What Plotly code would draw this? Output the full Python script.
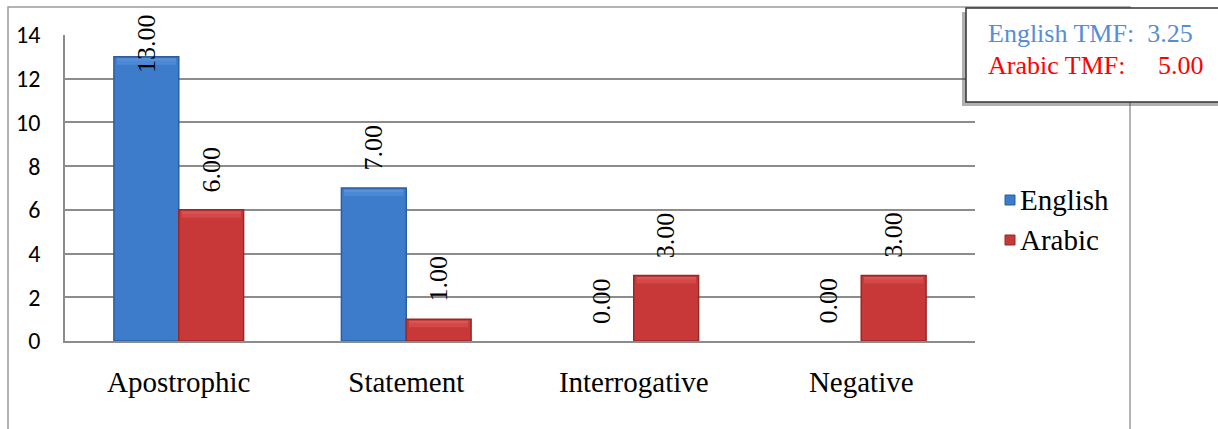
import plotly.graph_objects as go

# Sentence types and mean counts per language
categories = ["Apostrophic", "Statement", "Interrogative", "Negative"]
english = [13.00, 7.00, 0.00, 0.00]
arabic = [6.00, 1.00, 3.00, 3.00]
tmf_english = 3.25
tmf_arabic = 5.00
y_ticks = [0, 2, 4, 6, 8, 10, 12, 14]

SERIF = "Liberation Serif, Times New Roman, serif"
SANS = "Carlito, Calibri, Open Sans, sans-serif"

BAR_GAP = 0.43
HALF = (1 - BAR_GAP) / 2  # width of one bar in category units

series = [
    # name, values, face colour, edge colour, highlight colour, offset sign
    ("English", english, "#3D7CCB", "#2C5E9F", "#6AA2E6", -1),
    ("Arabic", arabic, "#C93838", "#962828", "#E56A6A", 1),
]

fig = go.Figure()
for name, vals, face, edge, hi, _ in series:
    fig.add_trace(go.Bar(
        x=categories, y=vals, name=name, showlegend=False,
        marker=dict(color=face,
                    line=dict(color=edge, width=[1.5 if v > 0 else 0 for v in vals])),
    ))

# Soft bevel highlight along the top of each non-empty bar
for name, vals, face, edge, hi, sign in series:
    for i, v in enumerate(vals):
        if v <= 0:
            continue
        x0 = i + (sign - 1) / 2 * HALF
        for (a, b, op) in ((-1.5, -4, 0.6), (-4, -8, 0.35)):
            fig.add_shape(type="rect", xref="x", yref="y",
                          x0=x0 + 0.012, x1=x0 + HALF - 0.012,
                          ysizemode="pixel", yanchor=v, y0=a, y1=b,
                          line=dict(width=0), fillcolor=hi, opacity=op, layer="above")

# Value labels, rotated, sitting above each bar (kept inside the frame)
for i in range(len(categories)):
    for name, vals, face, edge, hi, sign in series:
        v = vals[i]
        fig.add_annotation(
            x=i + sign * HALF / 2, y=min(v + 1.85, 13.6), xref="x", yref="y",
            text=f"{v:.2f}", textangle=-90, showarrow=False,
            font=dict(family=SERIF, size=26, color="black"),
            xanchor="center", yanchor="middle",
        )

# Legend drawn beside the plot
for k, (name, vals, face, edge, hi, sign) in enumerate(series):
    yc = 341 - (200 + 40 * k)
    fig.add_shape(type="rect", xref="paper", yref="paper",
                  x0=(1005 - 65) / 910, x1=(1015 - 65) / 910,
                  y0=(yc - 5) / 306, y1=(yc + 5) / 306,
                  line=dict(color=edge, width=1), fillcolor=face)
    fig.add_annotation(xref="paper", yref="paper",
                       x=(1018 - 65) / 910, y=yc / 306, text=name,
                       showarrow=False, xanchor="left", yanchor="middle",
                       font=dict(family=SERIF, size=29, color="black"))

# Outer chart frame
fig.add_shape(type="rect", xref="paper", yref="paper",
              x0=-57 / 910, x1=1065 / 910, y0=-100 / 306, y1=(341 - 7) / 306,
              line=dict(color="#9A9A9A", width=1.5), fillcolor="rgba(0,0,0,0)",
              layer="below")

# TMF summary box with drop shadow
fig.add_shape(type="rect", xref="paper", yref="paper",
              x0=(962 - 65) / 910, x1=(1222 - 65) / 910,
              y0=(341 - 106) / 306, y1=(341 - 12) / 306,
              line=dict(width=0), fillcolor="rgba(80,80,80,0.45)", layer="above")
fig.add_shape(type="rect", xref="paper", yref="paper",
              x0=(966 - 65) / 910, x1=(1226 - 65) / 910,
              y0=(341 - 102) / 306, y1=(341 - 8) / 306,
              line=dict(color="#333333", width=1.5), fillcolor="white", layer="above")
fig.add_annotation(xref="paper", yref="paper",
                   x=(986 - 65) / 910, y=(341 - 33) / 306,
                   text=f"English TMF:&nbsp;&nbsp;{tmf_english:.2f}", showarrow=False,
                   xanchor="left", yanchor="middle",
                   font=dict(family=SERIF, size=26, color="#558ED5"))
fig.add_annotation(xref="paper", yref="paper",
                   x=(986 - 65) / 910, y=(341 - 65) / 306,
                   text=f"Arabic TMF:&nbsp;&nbsp;&nbsp;&nbsp;&nbsp;{tmf_arabic:.2f}",
                   showarrow=False, xanchor="left", yanchor="middle",
                   font=dict(family=SERIF, size=26, color="#FF0000"))

fig.update_layout(
    width=1218, height=429,
    margin=dict(l=65, r=243, t=35, b=88),
    paper_bgcolor="white", plot_bgcolor="white",
    barmode="group", bargap=BAR_GAP, bargroupgap=0,
    showlegend=False,
    xaxis=dict(showgrid=False, showline=True, linecolor="#8C8C8C", linewidth=1.5,
               ticks="outside", ticklen=0, ticklabelstandoff=14,
               tickfont=dict(family=SERIF, size=29, color="black"),
               fixedrange=True),
    yaxis=dict(range=[0, 14], tickvals=y_ticks, showgrid=True,
               gridcolor="#8C8C8C", gridwidth=1.5,
               showline=True, linecolor="#8C8C8C", linewidth=1.5,
               ticks="outside", ticklen=0, ticklabelstandoff=18,
               tickfont=dict(family=SANS, size=24, color="black"),
               zeroline=False, fixedrange=True),
)
fig.write_html("out.html")
